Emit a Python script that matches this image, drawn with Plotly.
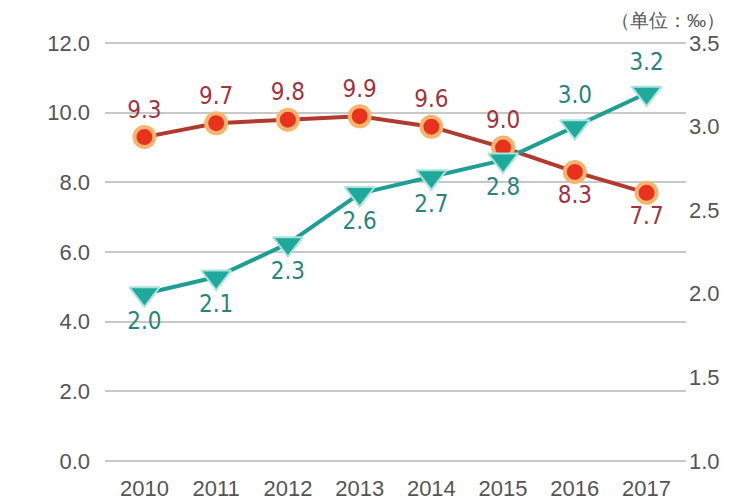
import plotly.graph_objects as go

years = ["2010", "2011", "2012", "2013", "2014", "2015", "2016", "2017"]
red_vals = [9.3, 9.7, 9.8, 9.9, 9.6, 9.0, 8.3, 7.7]
teal_vals = [2.0, 2.1, 2.3, 2.6, 2.7, 2.8, 3.0, 3.2]
red_pos = ["top center"] * 6 + ["bottom center"] * 2
teal_pos = ["bottom center"] * 6 + ["top center"] * 2
unit_text = "（单位：‰）"

pad = 0.06
fig = go.Figure()
fig.add_trace(go.Scatter(
    x=years, y=red_vals, mode="lines+markers+text",
    line=dict(color="#b03a2e", width=4),
    marker=dict(symbol="circle", size=20, color="#e8321e",
                line=dict(color="#f6b56f", width=4)),
    text=[f"{v:.1f}" for v in red_vals], textposition=red_pos,
    textfont=dict(family="DejaVu Sans Condensed", size=24, color="#a3323e"),
    cliponaxis=False, showlegend=False, yaxis="y"))
fig.add_trace(go.Scatter(
    x=years, y=teal_vals, mode="lines+markers+text",
    line=dict(color="#1f9e92", width=4),
    marker=dict(symbol="triangle-down", size=26, color="#1fa89c",
                line=dict(color="#a9e3dc", width=2)),
    text=[f"{v:.1f}" for v in teal_vals], textposition=teal_pos,
    textfont=dict(family="DejaVu Sans Condensed", size=24, color="#2a847c"),
    cliponaxis=False, showlegend=False, yaxis="y2"))

fig.update_layout(
    width=742, height=492,
    margin=dict(l=97, r=64, t=33, b=37),
    paper_bgcolor="white", plot_bgcolor="white",
    font=dict(family="Liberation Sans, Arial, sans-serif", color="#555555"),
    xaxis=dict(type="category", range=[-0.55, 7.55], showgrid=False,
               showline=False, zeroline=False, ticks="", automargin=False,
               ticklabelstandoff=10,
               tickfont=dict(size=22, color="#555555")),
    yaxis=dict(range=[-pad, 12 + pad], tickvals=[0, 2, 4, 6, 8, 10, 12],
               tickformat=".1f", showgrid=True,
               gridcolor="#c8c8c8", gridwidth=2, zeroline=False,
               showline=False, ticks="", ticklabelstandoff=14, automargin=False,
               tickfont=dict(size=22, color="#555555")),
    yaxis2=dict(range=[1.0 - pad / 4.8, 3.5 + pad / 4.8],
                tickvals=[1.0, 1.5, 2.0, 2.5, 3.0, 3.5], tickformat=".1f",
                overlaying="y", side="right", showgrid=False, zeroline=False,
                showline=False, ticks="", ticklabelstandoff=2, automargin=False,
                tickfont=dict(size=22, color="#555555")),
    annotations=[dict(text=unit_text, x=1.07, y=1.0, xref="paper", yref="paper",
                      yshift=33, xanchor="right", yanchor="top",
                      showarrow=False, font=dict(size=19, color="#555555"))],
)

fig.write_html("out.html")
